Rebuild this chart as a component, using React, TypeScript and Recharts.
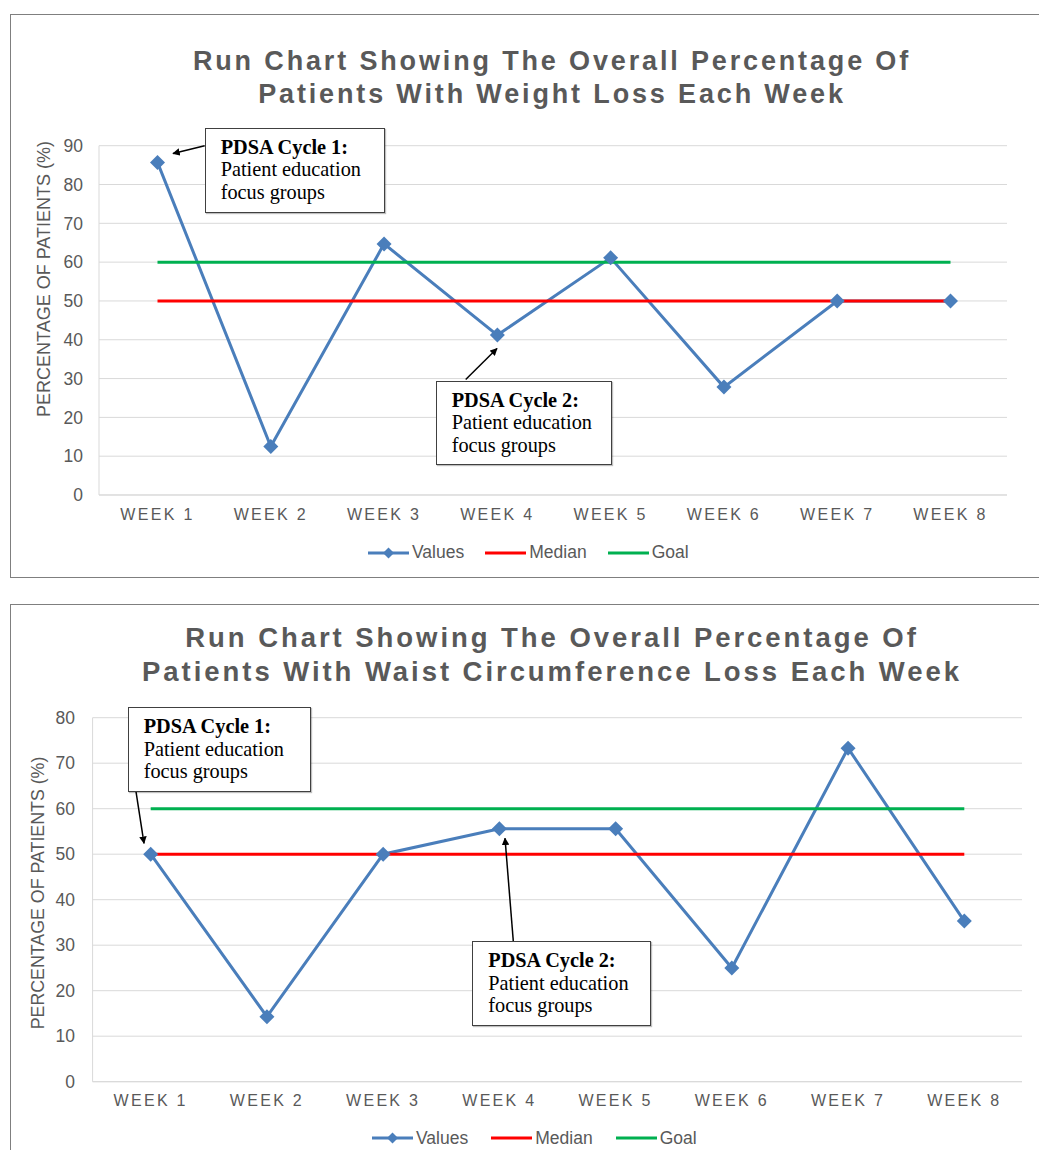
import React from 'react';
import { LineChart, Line, XAxis, YAxis, CartesianGrid } from 'recharts';

const weeks = ['WEEK 1', 'WEEK 2', 'WEEK 3', 'WEEK 4', 'WEEK 5', 'WEEK 6', 'WEEK 7', 'WEEK 8'];
const weightValues = [85.7, 12.5, 64.7, 41.2, 61.1, 27.8, 50, 50];
const waistValues = [50, 14.3, 50, 55.6, 55.6, 25, 73.3, 35.3];
const medianLevel = [50, 50, 50, 50, 50, 50, 50, 50];
const goalLevel = [60, 60, 60, 60, 60, 60, 60, 60];
const weightTicks = [0, 10, 20, 30, 40, 50, 60, 70, 80, 90];
const waistTicks = [0, 10, 20, 30, 40, 50, 60, 70, 80];

const BLUE = '#4a7ebb';
const RED = '#ff0000';
const GREEN = '#00b050';
const GREY = '#595959';
const SANS = '"Liberation Sans", Arial, sans-serif';
const SERIF = '"Liberation Serif", "Times New Roman", serif';

const buildRows = (vals: number[]) =>
  weeks.map((w, i) => ({ week: w, values: vals[i], median: medianLevel[i], goal: goalLevel[i] }));

const Diamond = (props: any) => {
  const { cx, cy, index } = props;
  if (cx == null || cy == null) return <g key={index} />;
  const r = 7.5;
  return (
    <path
      key={index}
      d={`M${cx},${cy - r}L${cx + r},${cy}L${cx},${cy + r}L${cx - r},${cy}Z`}
      fill={BLUE}
    />
  );
};

type Note = { left: number; top: number; width: number; height: number; head: string; from: [number, number]; to: [number, number] };

interface RunChartProps {
  top: number;
  height: number;
  titles: string[];
  titleY: number[];
  titleSize: number;
  titleSpacing: number;
  values: number[];
  ticks: number[];
  margin: { top: number; right: number; left: number; bottom: number };
  padL: number;
  padR: number;
  yTickMargin: number;
  yLabelX: number;
  yLabelY: number;
  yLabelSize: number;
  legendLeft: number;
  legendY: number;
  legendGap: number;
  boxHeight: number;
  notes: Note[];
}

const LegendSwatch = ({ color, marker }: { color: string; marker?: boolean }) => (
  <svg width={41} height={16} style={{ display: 'block' }}>
    <line x1={0} y1={8} x2={41} y2={8} stroke={color} strokeWidth={3} />
    {marker && <path d="M20.5,2.5L26,8L20.5,13.5L15,8Z" fill={color} />}
  </svg>
);

const RunChart = (p: RunChartProps) => {
  const data = buildRows(p.values);
  const maxTick = p.ticks[p.ticks.length - 1];
  const legendItems = [
    { name: 'Values', color: BLUE, marker: true },
    { name: 'Median', color: RED },
    { name: 'Goal', color: GREEN },
  ];
  return (
    <div style={{ position: 'absolute', left: 0, top: p.top, width: 1039, height: p.height }}>
      <div
        style={{
          position: 'absolute',
          left: 10,
          top: 14,
          width: 1040,
          height: p.boxHeight,
          border: '1.5px solid #7f7f7f',
          boxSizing: 'border-box',
          background: '#fff',
        }}
      />
      <div style={{ position: 'absolute', left: 0, top: 0 }}>
        <LineChart width={1039} height={p.height} data={data} margin={p.margin}>
          <CartesianGrid vertical={false} stroke="#d9d9d9" strokeWidth={1} />
          <XAxis
            dataKey="week"
            height={30}
            padding={{ left: p.padL, right: p.padR }}
            axisLine={{ stroke: '#d9d9d9' }}
            tickLine={false}
            tickMargin={7.3}
            tick={{ fill: GREY, fontSize: 16, fontFamily: SANS, letterSpacing: 2.3 }}
            interval={0}
          />
          <YAxis
            width={40}
            domain={[0, maxTick]}
            ticks={p.ticks}
            axisLine={{ stroke: '#d9d9d9' }}
            tickLine={false}
            tickMargin={p.yTickMargin}
            tick={{ fill: GREY, fontSize: 17.5, fontFamily: SANS }}
          />
          <Line
            dataKey="values"
            stroke={BLUE}
            strokeWidth={3}
            dot={Diamond}
            activeDot={false}
            isAnimationActive={false}
          />
          <Line dataKey="median" stroke={RED} strokeWidth={3} dot={false} activeDot={false} isAnimationActive={false} />
          <Line dataKey="goal" stroke={GREEN} strokeWidth={3} dot={false} activeDot={false} isAnimationActive={false} />
        </LineChart>
      </div>
      <svg
        width={1039}
        height={p.height}
        style={{ position: 'absolute', left: 0, top: 0, pointerEvents: 'none' }}
      >
        <defs>
          <marker id={`arrow${p.top}`} viewBox="0 0 10 10" refX={9} refY={5} markerWidth={5} markerHeight={5} orient="auto">
            <path d="M0,0L10,5L0,10Z" fill="#000" />
          </marker>
        </defs>
        {p.titles.map((t, i) => (
          <text
            key={t}
            x={552}
            y={p.titleY[i]}
            textAnchor="middle"
            fontFamily={SANS}
            fontWeight="bold"
            fontSize={p.titleSize}
            letterSpacing={p.titleSpacing}
            fill={GREY}
          >
            {t}
          </text>
        ))}
        <text
          transform={`translate(${p.yLabelX},${p.yLabelY}) rotate(-90)`}
          textAnchor="middle"
          dominantBaseline="central"
          fontFamily={SANS}
          fontSize={p.yLabelSize}
          fill={GREY}
        >
          PERCENTAGE OF PATIENTS (%)
        </text>
        {p.notes.map((n) => (
          <line
            key={n.head}
            x1={n.from[0]}
            y1={n.from[1]}
            x2={n.to[0]}
            y2={n.to[1]}
            stroke="#000"
            strokeWidth={1.5}
            markerEnd={`url(#arrow${p.top})`}
          />
        ))}
      </svg>
      {p.notes.map((n) => (
        <div
          key={n.head}
          style={{
            position: 'absolute',
            left: n.left,
            top: n.top,
            width: n.width,
            height: n.height,
            boxSizing: 'border-box',
            border: '1.5px solid #404040',
            boxShadow: '1px 1px 1px rgba(0,0,0,0.25)',
            background: '#fff',
            padding: '7px 0 0 15px',
            fontFamily: SERIF,
            fontSize: 20.3,
            lineHeight: '22.5px',
            color: '#000',
          }}
        >
          <div style={{ fontWeight: 'bold' }}>{n.head}</div>
          <div>Patient education</div>
          <div>focus groups</div>
        </div>
      ))}
      <div
        style={{
          position: 'absolute',
          left: p.legendLeft,
          top: p.legendY - 10,
          height: 20,
          display: 'flex',
          alignItems: 'center',
          gap: p.legendGap,
          fontFamily: SANS,
          fontSize: 17.5,
          color: GREY,
        }}
      >
        {legendItems.map((it) => (
          <div key={it.name} style={{ display: 'flex', alignItems: 'center' }}>
            <LegendSwatch color={it.color} marker={it.marker} />
            <span style={{ marginLeft: 3 }}>{it.name}</span>
          </div>
        ))}
      </div>
    </div>
  );
};

export default function App() {
  return (
    <div style={{ position: 'absolute', left: 0, top: 0, width: 1039, height: 1150, overflow: 'hidden', background: '#fff' }}>
      <RunChart
        top={0}
        height={580}
        boxHeight={564}
        titles={['Run Chart Showing The Overall Percentage Of', 'Patients With Weight Loss Each Week']}
        titleY={[70, 103]}
        titleSize={27}
        titleSpacing={2.85}
        values={weightValues}
        ticks={weightTicks}
        margin={{ top: 145.7, right: 32, left: 59, bottom: 55 }}
        padL={58.5}
        padR={56.5}
        yTickMargin={10}
        yLabelX={43.5}
        yLabelY={279}
        yLabelSize={18}
        legendLeft={368}
        legendY={552.7}
        legendGap={21}
        notes={[
          { left: 204.7, top: 127.7, width: 180, height: 85, head: 'PDSA Cycle 1:', from: [204.7, 145.7], to: [173, 153.5] },
          { left: 435.7, top: 380.7, width: 176, height: 84.5, head: 'PDSA Cycle 2:', from: [465.7, 379.5], to: [497, 348.5] },
        ]}
      />
      <RunChart
        top={590}
        height={560}
        boxHeight={600}
        titles={['Run Chart Showing The Overall Percentage Of', 'Patients With Waist Circumference Loss Each Week']}
        titleY={[57.3, 90.7]}
        titleSize={27.5}
        titleSpacing={2.95}
        values={waistValues}
        ticks={waistTicks}
        margin={{ top: 127.7, right: 17, left: 52.6, bottom: 38.3 }}
        padL={58.1}
        padR={57.7}
        yTickMargin={11.6}
        yLabelX={38}
        yLabelY={303}
        yLabelSize={17.8}
        legendLeft={372}
        legendY={548}
        legendGap={23}
        notes={[
          { left: 127.7, top: 117.3, width: 183, height: 84.5, head: 'PDSA Cycle 1:', from: [136, 201.7], to: [144, 253.3] },
          { left: 472.3, top: 351.3, width: 178.5, height: 84.5, head: 'PDSA Cycle 2:', from: [513.3, 351.3], to: [505, 248.3] },
        ]}
      />
    </div>
  );
}
